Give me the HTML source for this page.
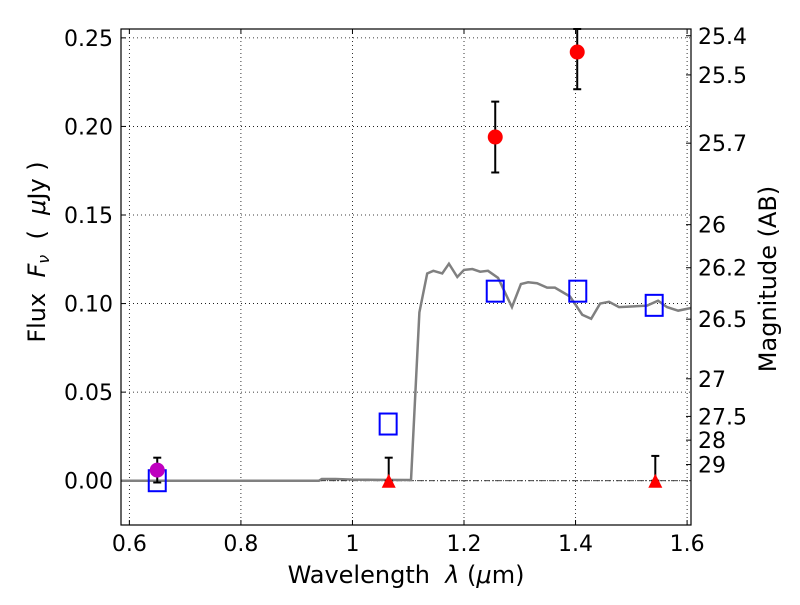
<!DOCTYPE html>
<html><head><meta charset="utf-8"><style>
body{margin:0;background:#fff}
svg text{font-family:"DejaVu Sans","Liberation Sans",sans-serif;fill:#000;white-space:pre}
</style></head><body>
<svg id="chart" width="800" height="600">
<g id="grid"></g>
<g id="ticks"></g>
<g id="marks"></g>
<rect x="121" y="29" width="570" height="496" fill="none" stroke="#000" stroke-width="1.2"/>
<text x="406" y="583" font-size="24" text-anchor="middle">Wavelength  <tspan font-style="italic">λ</tspan> (<tspan font-style="italic">μ</tspan>m)</text>
<text transform="translate(45,252) rotate(-90)" font-size="24" text-anchor="middle">Flux  <tspan font-style="italic">F<tspan font-size="16" dy="4">ν</tspan></tspan><tspan dy="-4">  (  </tspan><tspan font-style="italic">μ</tspan>Jy )</text>
<text transform="translate(776,279) rotate(-90)" font-size="24" text-anchor="middle">Magnitude (AB)</text>
</svg>
<script>
const xTicks=[0.6,0.8,1,1.2,1.4,1.6];
const xTickLabels=["0.6","0.8","1","1.2","1.4","1.6"];
const yTicks=[0,0.05,0.1,0.15,0.2,0.25];
const yTickLabels=["0.00","0.05","0.10","0.15","0.20","0.25"];
const magTicks=[25.4,25.5,25.7,26,26.2,26.5,27,27.5,28,29];
const sedLam=[0.585,0.94,0.945,0.97,1.0,1.05,1.105,1.12,1.134,1.145,1.161,1.173,1.188,1.2,1.215,1.229,1.243,1.261,1.286,1.302,1.315,1.331,1.349,1.363,1.39,1.412,1.428,1.444,1.46,1.478,1.528,1.548,1.564,1.584,1.607];
const sedFlux=[0,0,0.001,0.001,0.0006,0.0005,0.0004,0.095,0.117,0.1185,0.117,0.1225,0.115,0.119,0.1195,0.118,0.1185,0.1145,0.098,0.111,0.112,0.1115,0.109,0.109,0.104,0.0937,0.0914,0.1,0.101,0.098,0.0988,0.1016,0.098,0.096,0.0975];
const detLam=[1.256,1.403];
const detFlux=[0.194,0.242];
const detErr=[0.02,0.021];
const ulLam=[1.065,1.543];
const ulFlux=[0,0];
const ulErrTop=[0.013,0.014];
const purpleLam=[0.65];
const purpleFlux=[0.006];
const purpleErr=[0.007];
const modelLam=[0.65,1.064,1.256,1.404,1.541];
const modelFlux=[0,0.032,0.107,0.107,0.099];

const X0=121,X1=691,Y0=29,Y1=525,XMIN=0.585,XMAX=1.607,YMIN=-0.025,YMAX=0.255;
const sx=v=>X0+(v-XMIN)/(XMAX-XMIN)*(X1-X0);
const sy=v=>Y1-(v-YMIN)/(YMAX-YMIN)*(Y1-Y0);
const NS="http://www.w3.org/2000/svg";
function mk(p,tag,attrs){const e=document.createElementNS(NS,tag);for(const k in attrs)e.setAttribute(k,attrs[k]);p.appendChild(e);return e;}
const grid=document.getElementById('grid'),ticks=document.getElementById('ticks'),marks=document.getElementById('marks');
xTicks.forEach((t,i)=>{const x=sx(t);
 let g=mk(grid,'line',{x1:x,x2:x,y1:Y0,y2:Y1,stroke:'#000','stroke-dasharray':'1,3','stroke-width':0.8});
 
 mk(ticks,'line',{x1:x,x2:x,y1:Y1,y2:Y1-5,stroke:'#000'});mk(ticks,'line',{x1:x,x2:x,y1:Y0,y2:Y0+5,stroke:'#000'});
 const tx=mk(ticks,'text',{x:x,y:Y1+26,'font-size':22,'text-anchor':'middle'});tx.textContent=xTickLabels[i];
 });
yTicks.forEach((t,i)=>{const y=sy(t);
 let g=mk(grid,'line',{x1:X0,x2:X1,y1:y,y2:y,stroke:'#000','stroke-dasharray':'1,3','stroke-width':0.8});
 
 mk(ticks,'line',{x1:X0,x2:X0+5,y1:y,y2:y,stroke:'#000'});
 const tx=mk(ticks,'text',{x:X0-8,y:y+8,'font-size':22,'text-anchor':'end'});tx.textContent=yTickLabels[i];
 });
magTicks.forEach(m=>{const f=Math.pow(10,(23.9-m)/2.5);const y=sy(f);
 mk(ticks,'line',{x1:X1,x2:X1-5,y1:y,y2:y,stroke:'#000'});
 const tx=mk(ticks,'text',{x:X1+7,y:y+8,'font-size':22});tx.textContent=String(m);
 });
let z=mk(marks,'line',{x1:X0,x2:X1,y1:sy(0),y2:sy(0),stroke:'#000','stroke-dasharray':'6,2,1,2','stroke-width':0.8});

let pl=mk(marks,'polyline',{points:sedLam.map((l,i)=>sx(l)+','+sy(sedFlux[i])).join(' '),fill:'none',stroke:'#808080','stroke-width':2.5});

function eb(x,y1,y2){mk(marks,'line',{x1:x,x2:x,y1:y1,y2:y2,stroke:'#000','stroke-width':2});
 mk(marks,'line',{x1:x-4,x2:x+4,y1:y1,y2:y1,stroke:'#000','stroke-width':2});mk(marks,'line',{x1:x-4,x2:x+4,y1:y2,y2:y2,stroke:'#000','stroke-width':2});}
modelLam.forEach((l,i)=>{const r=mk(marks,'rect',{x:sx(l)-8.5,y:sy(modelFlux[i])-10.5,width:17,height:21,fill:'none',stroke:'#0000ff','stroke-width':2});
 });
purpleLam.forEach((l,i)=>{eb(sx(l),sy(purpleFlux[i]+purpleErr[i]),sy(purpleFlux[i]-purpleErr[i]));
 const c=mk(marks,'circle',{cx:sx(l),cy:sy(purpleFlux[i]),r:7.5,fill:'#bf00bf'});
 });
detLam.forEach((l,i)=>{eb(sx(l),Math.max(Y0,sy(detFlux[i]+detErr[i])),sy(detFlux[i]-detErr[i]));
 const c=mk(marks,'circle',{cx:sx(l),cy:sy(detFlux[i]),r:7.5,fill:'#ff0000'});
 });
ulLam.forEach((l,i)=>{const x=sx(l),y=sy(ulFlux[i]);eb(x,sy(ulErrTop[i]),y);
 const t=mk(marks,'polygon',{points:`${x-7},${y+7} ${x+7},${y+7} ${x},${y-7}`,fill:'#ff0000'});
 });
</script>
</body></html>
